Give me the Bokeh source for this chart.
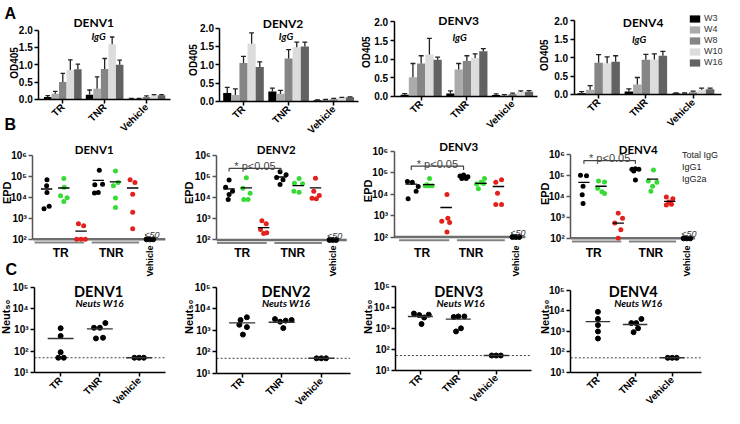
import math
from bokeh.plotting import figure
from bokeh.layouts import column, row
from bokeh.models import (FixedTicker, NumeralTickFormatter, Label, Legend, LegendItem, Range1d)
from bokeh.embed import file_html
from bokeh.resources import INLINE

FONT = "Liberation Sans"
TFONT = "Lato"

SEROTYPES = ["DENV1", "DENV2", "DENV3", "DENV4"]
GROUPS = ["TR", "TNR", "Vehicle"]
WEEKS = ["W3", "W4", "W8", "W10", "W16"]
WEEK_COLORS = ["#000000", "#ababab", "#858585", "#dcdcdc", "#626262"]

# ---- Panel A: OD405 (rows TR, TNR, Vehicle; columns W3..W16) ----
OD_DENV1 = [[0.07, 0.16, 0.50, 0.85, 0.87], [0.13, 0.31, 0.88, 1.59, 1.00], [0.02, 0.02, 0.07, 0.12, 0.12]]
OD_DENV1_UP = [[0.11, 0.23, 0.75, 1.14, 1.02], [0.27, 0.65, 1.18, 1.80, 1.13], [0.03, 0.03, 0.10, 0.14, 0.14]]
OD_DENV2 = [[0.23, 0.17, 1.05, 1.57, 0.94], [0.27, 0.21, 1.17, 1.48, 1.50], [0.03, 0.04, 0.06, 0.10, 0.11]]
OD_DENV2_UP = [[0.38, 0.34, 1.23, 1.87, 1.08], [0.36, 0.30, 1.41, 1.62, 1.62], [0.04, 0.05, 0.08, 0.11, 0.12]]
OD_DENV3 = [[0.035, 0.51, 0.88, 1.12, 0.98], [0.07, 0.72, 0.95, 1.03, 1.21], [0.03, 0.02, 0.06, 0.11, 0.12]]
OD_DENV3_UP = [[0.07, 0.88, 1.09, 1.56, 1.05], [0.14, 0.88, 1.09, 1.14, 1.28], [0.06, 0.04, 0.08, 0.14, 0.15]]
OD_DENV4 = [[0.035, 0.13, 0.86, 0.85, 0.89], [0.08, 0.27, 0.94, 0.95, 1.05], [0.03, 0.02, 0.06, 0.13, 0.14]]
OD_DENV4_UP = [[0.08, 0.24, 1.08, 1.02, 1.05], [0.15, 0.46, 1.09, 1.10, 1.17], [0.04, 0.04, 0.09, 0.17, 0.17]]

# ---- Panel B: EPD (first 5 = TR, last 5 = TNR) ----
EPD_SERIES = ["Total IgG", "IgG1", "IgG2a"]
EPD_COLORS = ["#000000", "#36dc36", "#e3201c"]
EPD_DENV1_TOTAL = [69000, 36000, 17000, 3800, 2900, 195000, 42000, 40000, 17000, 16000]
EPD_DENV1_IGG1 = [79000, 30000, 12000, 9500, 6300, 182000, 51000, 36000, 9300, 3300]
EPD_DENV1_IGG2A = [550, 450, 100, 100, 100, 69000, 51000, 14000, 1950, 320]
EPD_DENV1_MEAN = [25000, 28000, 245, 65000, 55000, 28000]
EPD_DENV2_TOTAL = [68000, 31000, 20000, 14000, 8100, 170000, 120000, 90000, 70000, 42000]
EPD_DENV2_IGG1 = [87000, 28000, 16000, 8300, 8300, 81000, 48000, 45000, 18000, 20000]
EPD_DENV2_IGG2A = [810, 590, 310, 220, 200, 83000, 20000, 12600, 9500, 8900]
EPD_DENV2_MEAN = [26000, 29000, 380, 95000, 37000, 29000]
EPD_DENV3_TOTAL = [40000, 36000, 23000, 14000, 6200, 72000, 79000, 65000, 55000, 55000]
EPD_DENV3_IGG1 = [55000, 25000, 25000, 25000, 28000, 55000, 36000, 18000, 32000, 30000]
EPD_DENV3_IGG2A = [9800, 760, 540, 480, 170, 48000, 36000, 11000, 3300, 3300]
EPD_DENV3_MEAN = [30000, 28000, 2400, 65000, 32000, 23000]
EPD_DENV4_TOTAL = [105000, 98000, 31000, 12300, 4700, 200000, 214000, 200000, 166000, 62000]
EPD_DENV4_IGG1 = [56000, 50000, 25000, 17000, 14000, 186000, 56000, 48000, 31000, 18000]
EPD_DENV4_IGG2A = [1580, 910, 540, 260, 100, 9500, 7900, 5500, 4300, 3900]
EPD_DENV4_MEAN = [48000, 31000, 540, 186000, 68000, 5900]
EPD_VEHICLE = [100, 100, 100]

# ---- Panel C: Neut50 at W16 ----
NEUT_DENV1_TR = [1200, 520, 91, 50, 50]
NEUT_DENV1_TNR = [1260, 1260, 2100, 400, 430]
NEUT_DENV1_MEAN = [400, 1120, 50]
NEUT_DENV2_TR = [3000, 4000, 1800, 1400, 630]
NEUT_DENV2_TNR = [3300, 2500, 2800, 3000, 1260]
NEUT_DENV2_MEAN = [2200, 2350, 50]
NEUT_DENV3_TR = [5100, 4300, 3300, 4500, 1600]
NEUT_DENV3_TNR = [3500, 3700, 3700, 710, 1000]
NEUT_DENV3_MEAN = [3700, 2750, 50]
NEUT_DENV4_TR = [8900, 4000, 2000, 980, 440]
NEUT_DENV4_TNR = [2500, 2500, 4000, 900, 1400]
NEUT_DENV4_MEAN = [2950, 2150, 50]
NEUT_VEHICLE = [50, 50, 50]
NEUT_LOD = 50

# ---- scatter spread (layout only) ----
JIT_B = {
    "DENV1": [[0.02, 0, 0.02, 0.15, -0.15, 0.06, 0.25, -0.2, 0.0, -0.22],
              [0, 0.02, -0.19, 0.19, 0, 0, 0.15, -0.12, 0, 0],
              [-0.15, 0.15, -0.25, 0, 0.25, -0.15, 0.13, 0, 0, 0]],
    "DENV2": [[0, -0.2, 0.2, 0.0, -0.05, -0.05, 0.3, -0.25, 0.12, -0.05],
              [0, -0.2, 0.22, 0.1, -0.15, 0.05, -0.22, 0.25, 0.05, -0.25],
              [-0.1, 0.15, -0.18, 0.18, 0, 0, -0.1, 0.22, -0.2, 0.05]],
    "DENV3": [[-0.22, 0.06, 0.4, 0.28, -0.18, -0.2, 0.0, 0.25, -0.1, 0.15],
              [0.05, -0.2, 0.0, 0.2, -0.1, 0.2, 0.0, -0.15, 0.15, -0.25],
              [0.05, 0.1, -0.25, 0.2, 0.05, 0.18, -0.15, -0.05, -0.15, 0.18]],
    "DENV4": [[-0.2, 0.15, -0.05, -0.1, -0.05, -0.2, 0, 0.2, -0.1, 0],
              [-0.15, 0.2, -0.2, 0.05, 0.2, 0.05, -0.25, 0.25, 0, -0.1],
              [0, 0.25, -0.2, 0.15, 0, -0.2, 0.18, -0.05, 0.1, -0.2]],
}
JIT_C = {
    "DENV1": [[0, 0, 0, -0.06, 0.08], [-0.15, 0, 0.14, -0.1, 0.08]],
    "DENV2": [[-0.04, 0.12, -0.07, 0.12, 0.02], [-0.17, -0.04, 0.1, 0.25, 0.04]],
    "DENV3": [[-0.17, -0.03, 0.1, 0.22, 0.03], [-0.12, 0, 0.16, -0.06, 0.07]],
    "DENV4": [[0, 0, 0, 0, 0], [-0.1, 0.03, 0.17, -0.04, 0.08]],
}
JIT_VEH = [-0.12, 0, 0.12]

SUP = {1: "\u00b9", 2: "\u00b2", 3: "\u00b3", 4: "\u2074", 5: "\u2075", 6: "\u2076"}

# ---- layout geometry (reference-pixel anchors) ----
S_X = 724 / 738.0
S_Y = 408 / 418.0
CX = [0, 181, 359, 538, 724]
CY = [0, 135, 279, 408]

A_COLS = [
    dict(x1=65.5, x3=150.8, y0=103.3, y2=32.3, ax=41, end=175, title=(97, 25), sub=(102, 32), ylab=(16.7, 66)),
    dict(x1=249.7, x3=341.7, y0=105.3, y2=30.3, ax=225.7, end=366.7, title=(290, 26), sub=(293, 32), ylab=(198.3, 63)),
    dict(x1=430.8, x3=524, y0=100, y2=24, ax=403.3, end=549, title=(469, 22), sub=(470, 33), ylab=(375, 55)),
    dict(x1=611.7, x3=708, y0=98.3, y2=22.7, ax=586.7, end=737, title=(657, 25), sub=(653, 35), ylab=(556.7, 58)),
]
B_COLS = [
    dict(x1=49, x7=154.3, y2=246.7, y6=160.7, ax=35, end=170, title=(97.5, 155), tr=63.3, tnr=115, ylab=(9, 199), sig=None),
    dict(x1=235, x7=340.7, y2=247.3, y6=160.7, ax=222.3, end=355, title=(283, 155), tr=248.3, tnr=300, ylab=(194, 199), sig=(174, 177.3)),
    dict(x1=420.7, x7=527.3, y2=244.3, y6=156.7, ax=403.3, end=537, title=(469, 152), tr=431.7, tnr=481.7, ylab=(377, 197), sig=(171.7, 175.7)),
    dict(x1=596.7, x7=701.7, y2=245.7, y6=160, ax=583.3, end=710, title=(652, 155), tr=606.7, tnr=665, ylab=(557.5, 200), sig=(166, 169.3)),
]
C_COLS = [
    dict(x1=63.3, x3=143.3, y1=383.3, y5=295.7, ax=36.7, end=170, title=(102, 300), sub=(103, 306), ylab=(8, 326)),
    dict(x1=248.3, x3=329, y1=384, y5=295.7, ax=222.3, end=358.3, title=(293, 300), sub=(293, 306), ylab=(194, 326)),
    dict(x1=430, x3=507.3, y1=380.7, y5=295, ax=405, end=543.3, title=(469, 300), sub=(471, 306), ylab=(377, 326)),
    dict(x1=611, x3=686.7, y1=382.7, y5=299, ax=583.3, end=716.7, title=(647, 300), sub=(652, 306), ylab=(557, 326)),
]


def ref_x(cx):
    return 2 + cx / S_X


def ref_y(cy):
    return 2 + cy / S_Y


def lin(p1, v1, p2, v2):
    k = (v2 - v1) / (p2 - p1)
    return lambda p: v1 + (p - p1) * k


def logm(p1, v1, p2, v2):
    f = lin(p1, math.log10(v1), p2, math.log10(v2))
    return lambda p: 10 ** f(p)


class Panel:
    def __init__(self, ci, ri, xm, ym, log=False):
        self.xm, self.ym = xm, ym
        w = CX[ci + 1] - CX[ci]
        h = CY[ri + 1] - CY[ri]
        xr = Range1d(xm(ref_x(CX[ci])), xm(ref_x(CX[ci + 1])))
        yr = Range1d(ym(ref_y(CY[ri + 1])), ym(ref_y(CY[ri])))
        p = figure(width=w, height=h, x_range=xr, y_range=yr,
                   y_axis_type="log" if log else "linear",
                   output_backend="svg", toolbar_location=None, min_border=0)
        p.xgrid.visible = False
        p.ygrid.visible = False
        p.outline_line_color = None
        p.background_fill_color = "white"
        p.border_fill_color = "white"
        for ax in (p.xaxis[0], p.yaxis[0]):
            ax.axis_line_color = "black"
            ax.axis_line_width = 1.5
            ax.major_tick_line_color = "black"
            ax.major_tick_line_width = 1.5
            ax.major_tick_out = 4
            ax.major_tick_in = 0
            ax.minor_tick_line_color = None
            ax.major_label_text_font = FONT
            ax.major_label_text_font_style = "bold"
            ax.major_label_text_font_size = "10px"
            ax.major_label_text_color = "black"
            ax.major_label_standoff = 2
        self.p = p

    def text(self, rx, ry, text, size, style="bold", font=FONT, align="center",
             baseline="alphabetic", angle=0.0, color="black"):
        self.p.add_layout(Label(x=self.xm(rx), y=self.ym(ry), text=text, text_font=font,
                                text_font_size=size, text_font_style=style, text_align=align,
                                text_baseline=baseline, angle=angle, text_color=color))


def od_panel(ci, name, means, ups):
    c = A_COLS[ci]
    P = Panel(ci, 0, lin(c["x1"], 1, c["x3"], 3), lin(c["y0"], 0, c["y2"], 2.0))
    p = P.p
    ax0, axe = P.xm(c["ax"]), P.xm(c["end"])
    ya, xa = p.yaxis[0], p.xaxis[0]
    ya.fixed_location = ax0
    ya.bounds = (0, 2.0)
    ya.ticker = FixedTicker(ticks=[0, 0.5, 1.0, 1.5, 2.0])
    ya.formatter = NumeralTickFormatter(format="0.0")
    xa.fixed_location = 0
    xa.bounds = (ax0, axe)
    xa.ticker = FixedTicker(ticks=[1, 2, 3])
    xa.major_label_overrides = {i + 1: g for i, g in enumerate(GROUPS)}
    xa.major_label_orientation = math.pi / 4
    bw = 0.18
    items = []
    for k, wk in enumerate(WEEKS):
        xs = [g + 1 + (k - 2) * bw for g in range(3)]
        tops = [means[g][k] for g in range(3)]
        up = [ups[g][k] for g in range(3)]
        r = p.vbar(x=xs, top=tops, width=bw, fill_color=WEEK_COLORS[k], line_color=None)
        items.append(LegendItem(label=wk, renderers=[r]))
        p.segment(x0=xs, y0=tops, x1=xs, y1=up, line_color="#222222", line_width=1.3)
        p.segment(x0=[x - bw * 0.3 for x in xs], y0=up, x1=[x + bw * 0.3 for x in xs], y1=up,
                  line_color="#222222", line_width=1.3)
    P.text(c["title"][0], c["title"][1], name, "12px", font=TFONT)
    P.text(c["sub"][0], c["sub"][1], "IgG", "10px", style="bold italic", font=TFONT, baseline="top")
    P.text(c["ylab"][0], c["ylab"][1], "OD405", "10px", baseline="middle", angle=math.pi / 2)
    if ci == 3:
        lg = Legend(items=items, location=(150, 68), orientation="vertical")
        lg.background_fill_alpha = 0
        lg.border_line_color = None
        lg.padding = 0
        lg.margin = 0
        lg.spacing = 1
        lg.glyph_width = 13
        lg.glyph_height = 9
        lg.label_height = 9
        lg.label_standoff = 3
        lg.label_text_font = FONT
        lg.label_text_font_size = "9px"
        lg.label_text_color = "#333333"
        p.add_layout(lg)
    if ci == 0:
        P.text(6, 15, "A", "16px", align="left")
        P.text(6, 129, "B", "16px", align="left")
    return p


def epd_panel(ci, name, total, igg1, igg2a, means):
    c = B_COLS[ci]
    P = Panel(ci, 1, lin(c["x1"], 1, c["x7"], 7), logm(c["y2"], 100, c["y6"], 1e6), log=True)
    p = P.p
    ax0, axe = P.xm(c["ax"]), P.xm(c["end"])
    ya, xa = p.yaxis[0], p.xaxis[0]
    ya.fixed_location = ax0
    ya.bounds = (100, 1e6)
    ya.ticker = FixedTicker(ticks=[1e2, 1e3, 1e4, 1e5, 1e6])
    ya.major_label_overrides = {10 ** e: "10" + SUP[e] for e in range(2, 7)}
    ya.axis_line_color = "#555555"
    ya.major_tick_line_color = "#555555"
    xa.visible = False
    # baseline at 10^2 and group underlines
    p.segment(x0=[ax0], x1=[axe], y0=[100], y1=[100], line_color="#6e6e6e", line_width=2.5)
    yg = P.ym(c["y2"] + 3.2)
    p.segment(x0=[0.3, 3.62], x1=[3.18, 6.37], y0=[yg, yg], y1=[yg, yg],
              line_color="#858585", line_width=2)
    jit = JIT_B[name]
    for k, vals in enumerate([total, igg1, igg2a]):
        xs = [k + 1 + j for j in jit[k][:5]] + [k + 4 + j for j in jit[k][5:]]
        p.scatter(xs, vals, size=5, color=EPD_COLORS[k], line_color=None)
    mx = [1, 2, 3, 4, 5, 6]
    p.segment(x0=[m - 0.33 for m in mx], x1=[m + 0.33 for m in mx], y0=means, y1=means,
              line_color="black", line_width=1.3)
    p.scatter([7 + 1.6 * j for j in JIT_VEH], EPD_VEHICLE, size=5, color="black")
    vx = c["x7"]
    P.text(vx + 2, c["y2"] - 4, "<50", "9px", style="italic", color="#333333")
    P.text(vx, 253, "Vehicle", "9px", align="right", baseline="middle", angle=math.pi / 2)
    P.text(c["tr"], 254, "TR", "12px", baseline="top")
    P.text(c["tnr"], 254, "TNR", "12px", baseline="top")
    if c["sig"] is not None:
        hi, lo = P.ym(c["sig"][0]), P.ym(c["sig"][1])
        p.line([1, 1, 4, 4], [lo, hi, hi, lo], line_color="#444444", line_width=1.2)
        p.add_layout(Label(x=2.5, y=P.ym(c["sig"][0] - 2.5), text="* p<0.05", text_font=FONT,
                           text_font_size="11px", text_align="center", text_baseline="alphabetic"))
    P.text(c["title"][0], c["title"][1], name, "11.5px", font=TFONT)
    P.text(c["ylab"][0], c["ylab"][1], "EPD", "11px", baseline="middle", angle=math.pi / 2)
    if ci == 3:
        items = []
        for k, lab in enumerate(EPD_SERIES):
            r = p.scatter([], [], size=8, color=EPD_COLORS[k], line_color=None)
            items.append(LegendItem(label=lab, renderers=[r]))
        lg = Legend(items=items, location=(133, 95), orientation="vertical")
        lg.background_fill_alpha = 0
        lg.border_line_color = None
        lg.padding = 0
        lg.margin = 0
        lg.spacing = 2
        lg.glyph_width = 9
        lg.glyph_height = 10
        lg.label_height = 10
        lg.label_standoff = 2
        lg.label_text_font = FONT
        lg.label_text_font_size = "9px"
        lg.label_text_color = "#222222"
        p.add_layout(lg)
    if ci == 0:
        P.text(7, 278, "C", "16px", align="left")
    return p


def neut_panel(ci, name, tr, tnr, means):
    c = C_COLS[ci]
    P = Panel(ci, 2, lin(c["x1"], 1, c["x3"], 3), logm(c["y1"], 10, c["y5"], 1e5), log=True)
    p = P.p
    ax0, axe = P.xm(c["ax"]), P.xm(c["end"])
    ya, xa = p.yaxis[0], p.xaxis[0]
    ya.fixed_location = ax0
    ya.bounds = (10, 1e5)
    ya.ticker = FixedTicker(ticks=[1e1, 1e2, 1e3, 1e4, 1e5])
    ya.major_label_overrides = {10 ** e: "10" + SUP[e] for e in range(1, 6)}
    xa.fixed_location = 10
    xa.bounds = (ax0, axe)
    xa.ticker = FixedTicker(ticks=[1, 2, 3])
    xa.major_label_overrides = {i + 1: g for i, g in enumerate(GROUPS)}
    xa.major_label_orientation = math.pi / 4
    xa.major_label_text_font_size = "10px"
    p.segment(x0=[ax0], x1=[axe], y0=[NEUT_LOD], y1=[NEUT_LOD], line_color="#444444",
              line_width=1, line_dash="2 2")
    jit = JIT_C[name]
    xs = [1 + j for j in jit[0]] + [2 + j for j in jit[1]] + [3 + j for j in JIT_VEH]
    p.scatter(xs, list(tr) + list(tnr) + NEUT_VEHICLE, size=5, color="black")
    mx = [1, 2, 3]
    p.segment(x0=[m - 0.33 for m in mx], x1=[m + 0.33 for m in mx], y0=means, y1=means,
              line_color="#333333", line_width=1.4)
    P.text(c["title"][0], c["title"][1], name, "14.5px", font=TFONT)
    P.text(c["sub"][0], c["sub"][1], "Neuts W16", "10px", style="bold italic", font=TFONT,
           baseline="top")
    P.text(c["ylab"][0], c["ylab"][1], "Neut\u2085\u2080", "11px", baseline="middle",
           angle=math.pi / 2)
    return p


row_a = row(
    od_panel(0, "DENV1", OD_DENV1, OD_DENV1_UP),
    od_panel(1, "DENV2", OD_DENV2, OD_DENV2_UP),
    od_panel(2, "DENV3", OD_DENV3, OD_DENV3_UP),
    od_panel(3, "DENV4", OD_DENV4, OD_DENV4_UP),
)
row_b = row(
    epd_panel(0, "DENV1", EPD_DENV1_TOTAL, EPD_DENV1_IGG1, EPD_DENV1_IGG2A, EPD_DENV1_MEAN),
    epd_panel(1, "DENV2", EPD_DENV2_TOTAL, EPD_DENV2_IGG1, EPD_DENV2_IGG2A, EPD_DENV2_MEAN),
    epd_panel(2, "DENV3", EPD_DENV3_TOTAL, EPD_DENV3_IGG1, EPD_DENV3_IGG2A, EPD_DENV3_MEAN),
    epd_panel(3, "DENV4", EPD_DENV4_TOTAL, EPD_DENV4_IGG1, EPD_DENV4_IGG2A, EPD_DENV4_MEAN),
)
row_c = row(
    neut_panel(0, "DENV1", NEUT_DENV1_TR, NEUT_DENV1_TNR, NEUT_DENV1_MEAN),
    neut_panel(1, "DENV2", NEUT_DENV2_TR, NEUT_DENV2_TNR, NEUT_DENV2_MEAN),
    neut_panel(2, "DENV3", NEUT_DENV3_TR, NEUT_DENV3_TNR, NEUT_DENV3_MEAN),
    neut_panel(3, "DENV4", NEUT_DENV4_TR, NEUT_DENV4_TNR, NEUT_DENV4_MEAN),
)
layout = column(row_a, row_b, row_c)

open("out.html", "w").write(file_html(layout, INLINE))
